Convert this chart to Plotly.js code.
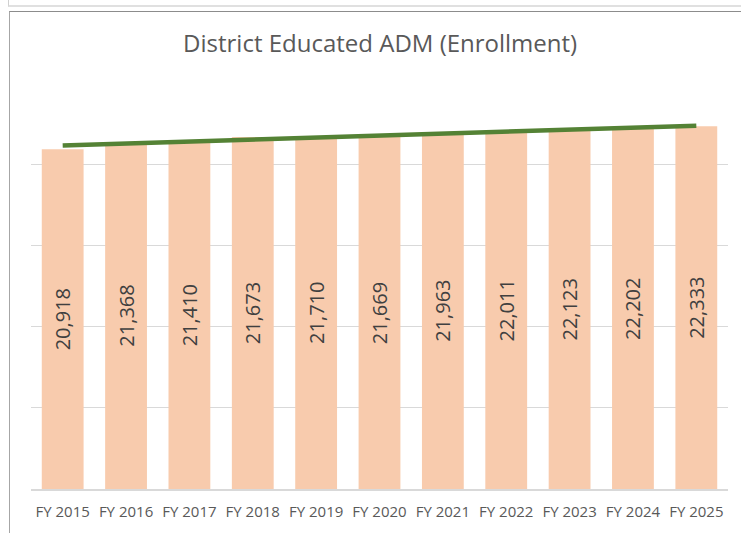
<!DOCTYPE html>
<html><head><meta charset="utf-8">
<script src="https://cdn.plot.ly/plotly-3.0.1.min.js"></script>
<style>
html,body{margin:0;padding:0;background:#fff;width:741px;height:533px;overflow:hidden;}
#strip{position:absolute;left:8px;top:-2px;width:740px;height:7px;border-left:1px solid #d0d0d0;border-bottom:2px solid #e0e0e0;}
#frame{position:absolute;left:9px;top:11px;width:740px;height:530px;border-left:1px solid #a6a6a6;border-top:1px solid #8c8c8c;}
#chart{position:absolute;left:0;top:0;width:741px;height:533px;}
</style></head>
<body>
<div id="strip"></div>
<div id="frame"></div>
<div id="chart"></div>
<script>
const categories = ["FY 2015","FY 2016","FY 2017","FY 2018","FY 2019","FY 2020","FY 2021","FY 2022","FY 2023","FY 2024","FY 2025"];
const enrollment = [20918,21368,21410,21673,21710,21669,21963,22011,22123,22202,22333];

// Linear trendline (least squares) as Excel computes it
const n = enrollment.length;
const xs = enrollment.map((_, i) => i + 1);
const mx = xs.reduce((a,b)=>a+b,0)/n;
const my = enrollment.reduce((a,b)=>a+b,0)/n;
let sxy = 0, sxx = 0;
for (let i = 0; i < n; i++) { sxy += (xs[i]-mx)*(enrollment[i]-my); sxx += (xs[i]-mx)**2; }
const slope = sxy/sxx, intercept = my - slope*mx;
const trend = xs.map(x => intercept + slope*x);

const fontFam = '"Open Sans", "Noto Sans", sans-serif';
const data = [
  {type:'bar', x:categories, y:enrollment, marker:{color:'#F8CBAD'},
   texttemplate:'%{y:,}', textposition:'inside', insidetextanchor:'middle', textangle:-90,
   constraintext:'none',
   textfont:{size:20, color:'#404040', family:fontFam}, hoverinfo:'skip', showlegend:false},
  {type:'scatter', mode:'lines', x:categories, y:trend,
   line:{color:'#548235', width:4.5}, hoverinfo:'skip', showlegend:false}
];
const layout = {
  width:741, height:533,
  margin:{l:31, r:13, t:83, b:44},
  paper_bgcolor:'rgba(0,0,0,0)', plot_bgcolor:'rgba(0,0,0,0)',
  bargap:0.34,
  title:{text:'District Educated ADM (Enrollment)', font:{size:24, color:'#595959', family:fontFam},
         x:0.513, xanchor:'center', y:1-44/533, yref:'container', yanchor:'middle'},
  xaxis:{showline:true, linecolor:'#d9d9d9', linewidth:1.5, ticks:'', showgrid:false,
         ticklabelstandoff:8,
         tickfont:{size:15, color:'#595959', family:fontFam}},
  yaxis:{range:[0,25000], dtick:5000, showticklabels:false, gridcolor:'#d9d9d9', gridwidth:1,
         zeroline:false, ticks:''},
  font:{family:fontFam}
};
Plotly.newPlot('chart', data, layout, {displayModeBar:false, staticPlot:true});
</script>
</body></html>
